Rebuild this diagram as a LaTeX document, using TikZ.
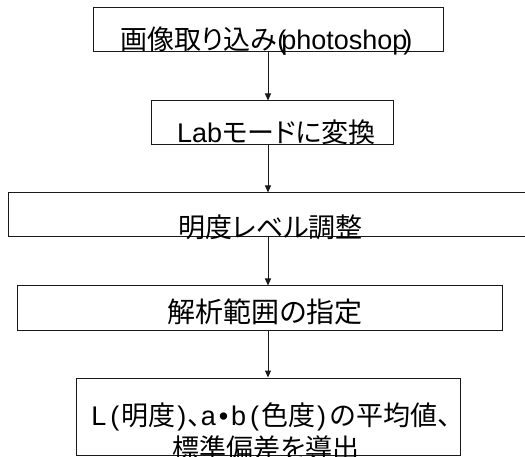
\documentclass[tikz,border=0pt]{standalone}
\usepackage{fontspec}
\setmainfont{Liberation Sans}
\newfontfamily\cjk[RawFeature=+palt]{Noto Sans CJK JP}
\usetikzlibrary{arrows.meta}
\begin{document}
\begin{tikzpicture}[x=1pt,y=-1pt,
  box/.style={draw=black!90,line width=1pt,inner sep=0pt,minimum width=#1},
  lbl/.style={inner sep=0pt,anchor=base,font=\fontsize{27}{33}\selectfont},
  arr/.style={draw=black!90,line width=1pt,-{Triangle[length=7pt,width=6pt]}}]
\useasboundingbox (0,0) rectangle (525,457);
% boxes
\node[box=350pt,minimum height=44pt] (b1) at (268,30) {};
\node[box=242pt,minimum height=44pt] (b2) at (272,123) {};
\node[box=522pt,minimum height=44pt] (b3) at (269,215) {};
\node[box=485pt,minimum height=44pt] (b4) at (259.5,308) {};
\node[box=384pt,minimum height=77pt] (b5) at (268,416.5) {};
% labels
\node[lbl] (t1) at (266.5,50) {{\cjk 画像取り込み}(\kern-5pt photoshop\kern-4pt)};
\node[lbl] (t2) at (276.5,143) {Lab{\cjk モードに変換}};
\node[lbl] (t3) at (270.5,238) {\cjk 明度レベル調整};
\node[lbl,font=\fontsize{28}{33}\selectfont] (t4) at (265,322) {\cjk 解析範囲の指定};
\node[lbl] (t5a) at (271,425) {L\kern4pt(\kern2pt{\cjk 明度}\kern2pt)\kern1pt{\cjk 、}a\kern3pt•\kern3pt b\kern4pt(\kern2pt{\cjk 色度}\kern2pt)\kern4pt{\cjk の平均値、}};
\node[lbl] (t5b) at (266,458) {\cjk 標準偏差を導出};
% connectors
\coordinate (ax) at (268,0);
\draw[arr] (b1.south -| ax) -- (b2.north -| ax);
\draw[arr] (b2.south -| ax) -- (b3.north -| ax);
\draw[arr] (b3.south -| ax) -- (b4.north -| ax);
\draw[arr] (b4.south -| ax) -- (b5.north -| ax);
\end{tikzpicture}
\end{document}
